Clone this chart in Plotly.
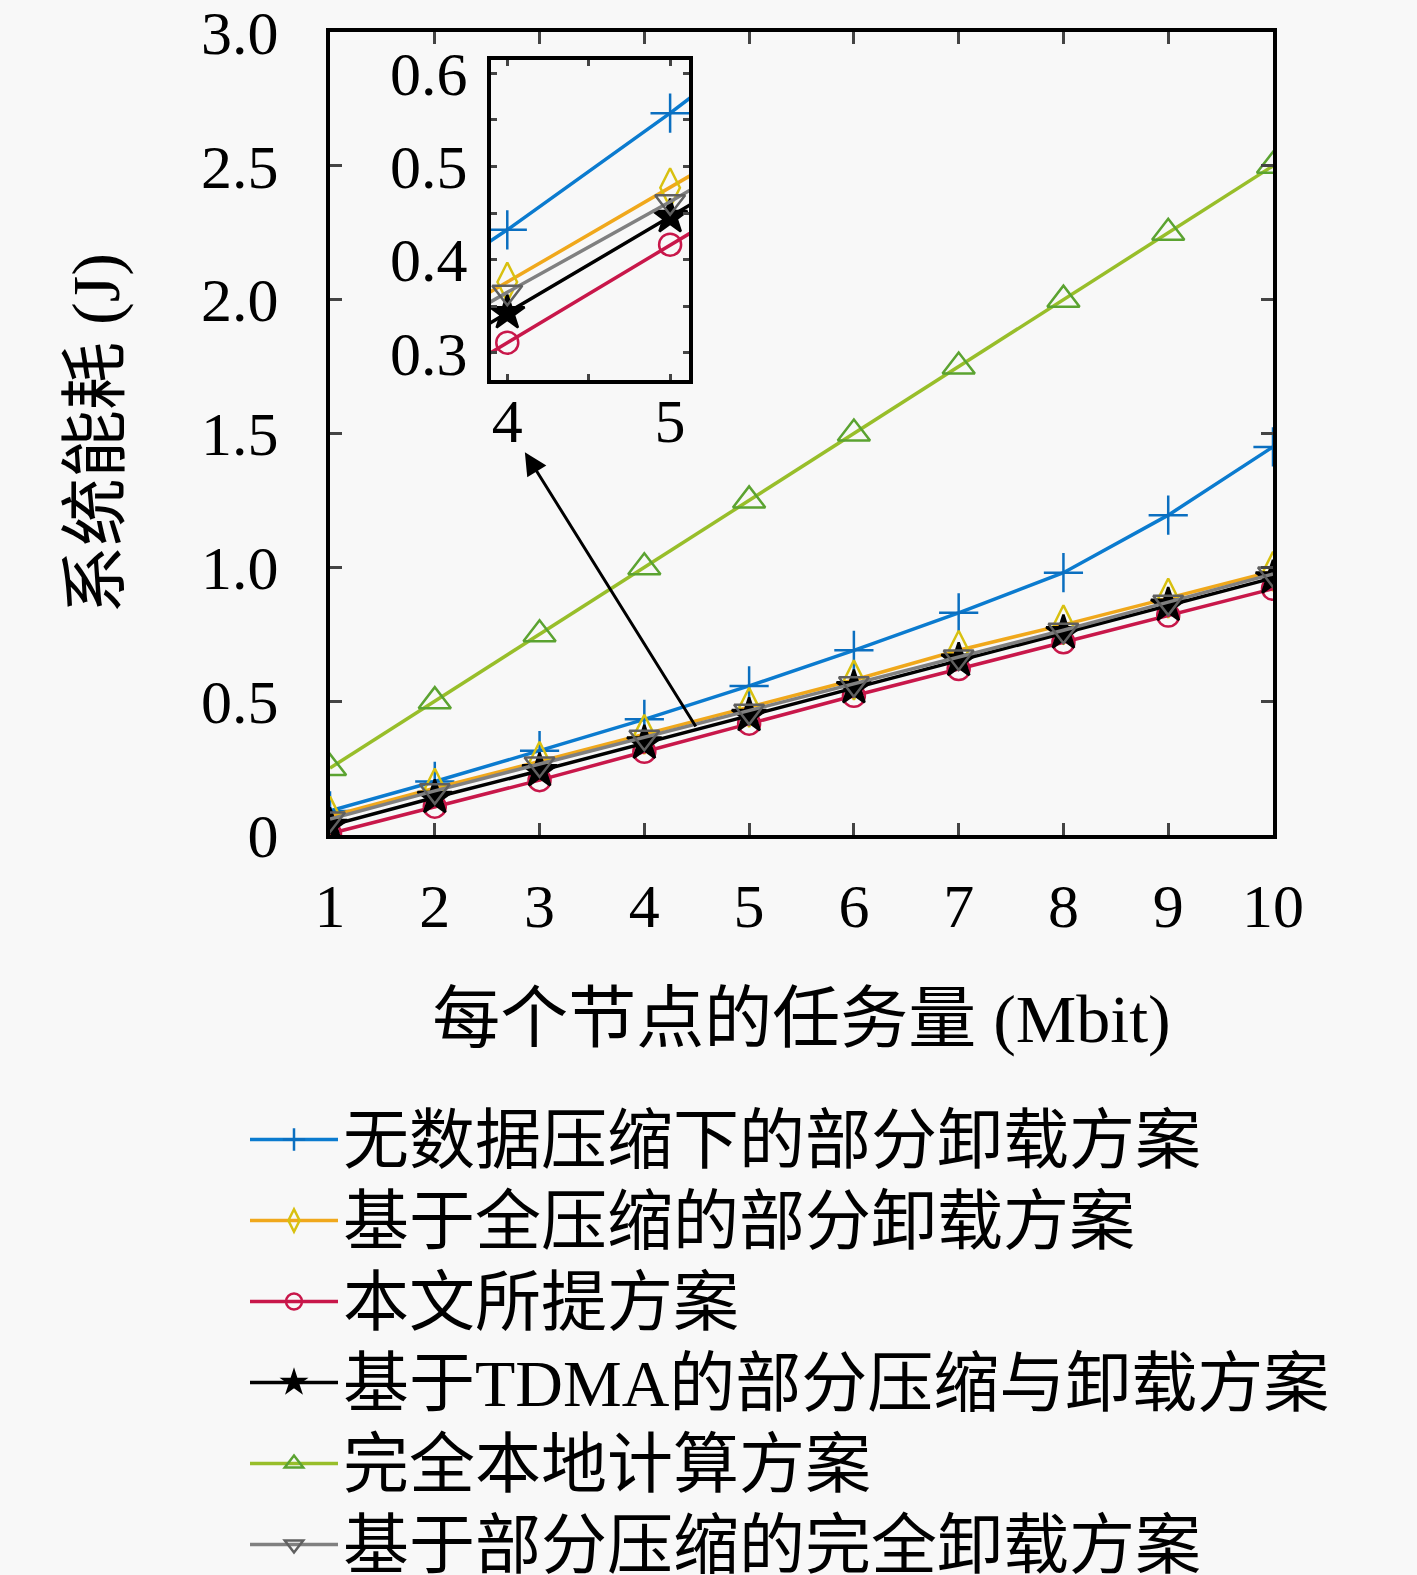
import plotly.graph_objects as go

# task size per node (Mbit)
task_mbit = [1, 2, 3, 4, 5, 6, 7, 8, 9, 10]

# system energy (J)
no_compress = [0.09, 0.20, 0.315, 0.432, 0.557, 0.69, 0.83, 0.98, 1.195, 1.45]
full_compress = [0.07, 0.175, 0.275, 0.376, 0.477, 0.579, 0.69, 0.785, 0.885, 0.985]
proposed = [0.005, 0.106, 0.205, 0.311, 0.416, 0.52, 0.62, 0.72, 0.82, 0.92]
tdma = [0.035, 0.14, 0.24, 0.343, 0.446, 0.55, 0.652, 0.755, 0.858, 0.96]
local_only = [0.25, 0.50, 0.75, 1.00, 1.25, 1.50, 1.75, 2.00, 2.25, 2.50]
partial_full_offload = [0.06, 0.165, 0.265, 0.365, 0.462, 0.565, 0.665, 0.765, 0.87, 0.975]

names = [
    "无数据压缩下的部分卸载方案",
    "基于全压缩的部分卸载方案",
    "本文所提方案",
    "基于TDMA的部分压缩与卸载方案",
    "完全本地计算方案",
    "基于部分压缩的完全卸载方案",
]

y_ticks = [0, 0.5, 1.0, 1.5, 2.0, 2.5, 3.0]
y_tick_text = ["0", "0.5", "1.0", "1.5", "2.0", "2.5", "3.0"]
x_tick_text = [str(v) for v in task_mbit]
inset_y_ticks = [0.3, 0.4, 0.5, 0.6]
inset_x_ticks = [4, 5]

series = [no_compress, full_compress, proposed, tdma, local_only, partial_full_offload]
line_colors = ["#0B7BCF", "#F0A81C", "#C8174A", "#000000", "#98BE2A", "#808080"]
marker_colors = ["#0B6FC0", "#D8C010", "#C8174A", "#000000", "#5BA331", "#606060"]
symbols = ["cross-thin-open", "diamond-tall-open", "circle-open", "star",
           "triangle-up-open", "triangle-down-open"]
sizes = [28, 28, 22, 26, 28, 26]

SERIF = "Liberation Serif, Noto Sans CJK SC"
BG = "#f8f8f8"

W, H = 1417, 1575


def fx(px):
    return px / W


def fy(py):
    return 1 - py / H


fig = go.Figure()

for i, ys in enumerate(series):
    mk = dict(symbol=symbols[i], size=sizes[i], color=marker_colors[i],
              line=dict(color=marker_colors[i], width=2.5))
    # legend text drawn a bit larger than the row spacing font
    label = '<span style="font-size:66px">' + names[i] + '</span>'
    fig.add_trace(go.Scatter(x=task_mbit, y=ys, name=label, mode="lines+markers",
                             line=dict(color=line_colors[i], width=3.5), marker=mk,
                             xaxis="x", yaxis="y"))
    # zoomed inset
    fig.add_trace(go.Scatter(x=task_mbit, y=ys, name=names[i], mode="lines+markers",
                             line=dict(color=line_colors[i], width=3.5), marker=mk,
                             xaxis="x2", yaxis="y2", showlegend=False))

axis_style = dict(showline=True, linewidth=4, linecolor="black", mirror="ticks",
                  showgrid=False, zeroline=False, automargin=False,
                  ticks="inside", tickwidth=3, ticklabeloverflow="allow")

fig.update_layout(
    width=W, height=H,
    margin=dict(l=0, r=0, t=0, b=0, autoexpand=False),
    paper_bgcolor=BG, plot_bgcolor=BG,
    font=dict(family=SERIF, size=62, color="black"),
    showlegend=True,
    legend=dict(x=fx(245), y=fy(1094), xanchor="left", yanchor="top",
                bgcolor="rgba(0,0,0,0)", font=dict(size=60, family=SERIF),
                itemwidth=88, tracegroupgap=0),
    xaxis=dict(domain=[fx(330), fx(1273)], range=[1, 10], tickvals=task_mbit,
               ticktext=x_tick_text, ticklen=12, ticklabelstandoff=14,
               title=dict(text="每个节点的任务量 (Mbit)", standoff=56,
                          font=dict(size=68)), **axis_style),
    yaxis=dict(domain=[fy(835), fy(32)], range=[0, 3], tickvals=y_ticks,
               ticktext=y_tick_text, ticklen=12, ticklabelstandoff=35,
               title=dict(text="系统能耗 (J)", standoff=60, font=dict(size=68)),
               **axis_style),
    xaxis2=dict(domain=[fx(491), fx(689)], range=[3.9, 5.116], anchor="y2",
                tickvals=inset_x_ticks, ticklen=6, ticklabelstandoff=-16,
                minor=dict(dtick=0.5, tick0=0, ticks="inside", ticklen=6, tickwidth=3),
                **axis_style),
    yaxis2=dict(domain=[fy(380), fy(60)], range=[0.271, 0.614], anchor="x2",
                tickvals=inset_y_ticks, ticklen=6, ticklabelstandoff=7,
                minor=dict(dtick=0.05, tick0=0, ticks="inside", ticklen=6, tickwidth=3),
                **axis_style),
)

# arrow pointing from the main curves to the inset
fig.add_annotation(x=2.86, y=1.43, ax=4.5, ay=0.40, xref="x", yref="y",
                   axref="x", ayref="y", showarrow=True, arrowhead=2,
                   arrowsize=1.5, arrowwidth=3, arrowcolor="black", text="")

# drop the default page margin so the figure fills the window
fig.write_html("out.html", config={"displayModeBar": False},
               post_script="document.body.style.margin='0';"
                           "document.body.style.background='%s';" % BG)
